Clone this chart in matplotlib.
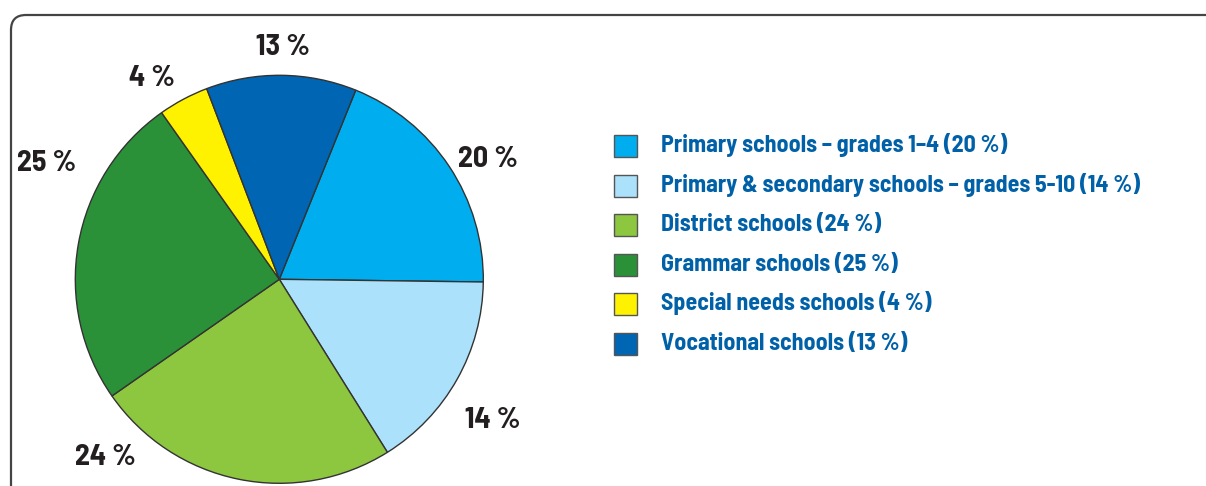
import matplotlib.pyplot as plt
from matplotlib.patches import Rectangle, FancyBboxPatch
import numpy as np

# ---------------------------------------------------------------------------
# DATA
# ---------------------------------------------------------------------------
categories = [
    "Primary schools \u2013 grades 1\u20134",
    "Primary & secondary schools \u2013 grades 5-10",
    "District schools",
    "Grammar schools",
    "Special needs schools",
    "Vocational schools",
]
# slice sizes as drawn in the picture
shares = [19.1, 15.9, 24.2, 24.9, 4.0, 11.9]
# percentages printed on the chart
label_pct = [20, 14, 24, 25, 4, 13]

colors = ["#00AEEF", "#ABE1FA", "#8DC63F", "#2A9139", "#FFF200", "#0065B3"]

# label placement (degrees clockwise from top, radius in px)
label_angle = [59.7, 123.0, 224.7, 297.0, 328.0, 0.9]
label_radius = [242, 254, 247, 261, 240, 234]

W, H = 1206, 486
cx, cy, R = 279.3, H - 279.3, 204

font = "Barlow Semi Condensed"
text_blue = "#0061A8"

fig = plt.figure(figsize=(W / 100, H / 100), dpi=100)
ax = fig.add_axes([0, 0, 1, 1])

# frame with rounded corner, running off the right and bottom edges
frame = FancyBboxPatch((11, -60), W + 100, H - 15 + 60,
                       boxstyle="round,pad=0,rounding_size=15",
                       fill=False, edgecolor="#444444", linewidth=1.6)
ax.add_patch(frame)

ax.pie(shares, colors=colors, startangle=90 - 22.0, counterclock=False,
       center=(cx, cy), radius=R,
       wedgeprops=dict(edgecolor="#333333", linewidth=1.0))

for pct, ang, r in zip(label_pct, label_angle, label_radius):
    a = np.deg2rad(ang)
    ax.text(cx + r * np.sin(a), cy + r * np.cos(a) - 10, f"{pct} %",
            ha="center", va="baseline", fontsize=21.5, fontweight="bold",
            color="#231F20", family=font)

# legend
row0 = H - 146
pitch = 39.6
for i, (name, col, pct) in enumerate(zip(categories, colors, label_pct)):
    y = row0 - i * pitch
    ax.add_patch(Rectangle((614, y - 11), 23, 22, facecolor=col,
                           edgecolor="#555555", linewidth=1.0))
    ax.text(661, y - 6, f"{name} ({pct} %)", ha="left", va="baseline",
            fontsize=17.2, fontweight="bold", color=text_blue, family=font)

ax.set_xlim(0, W)
ax.set_ylim(0, H)
ax.set_aspect("equal")
ax.axis("off")

plt.savefig("out.png", dpi=100)
